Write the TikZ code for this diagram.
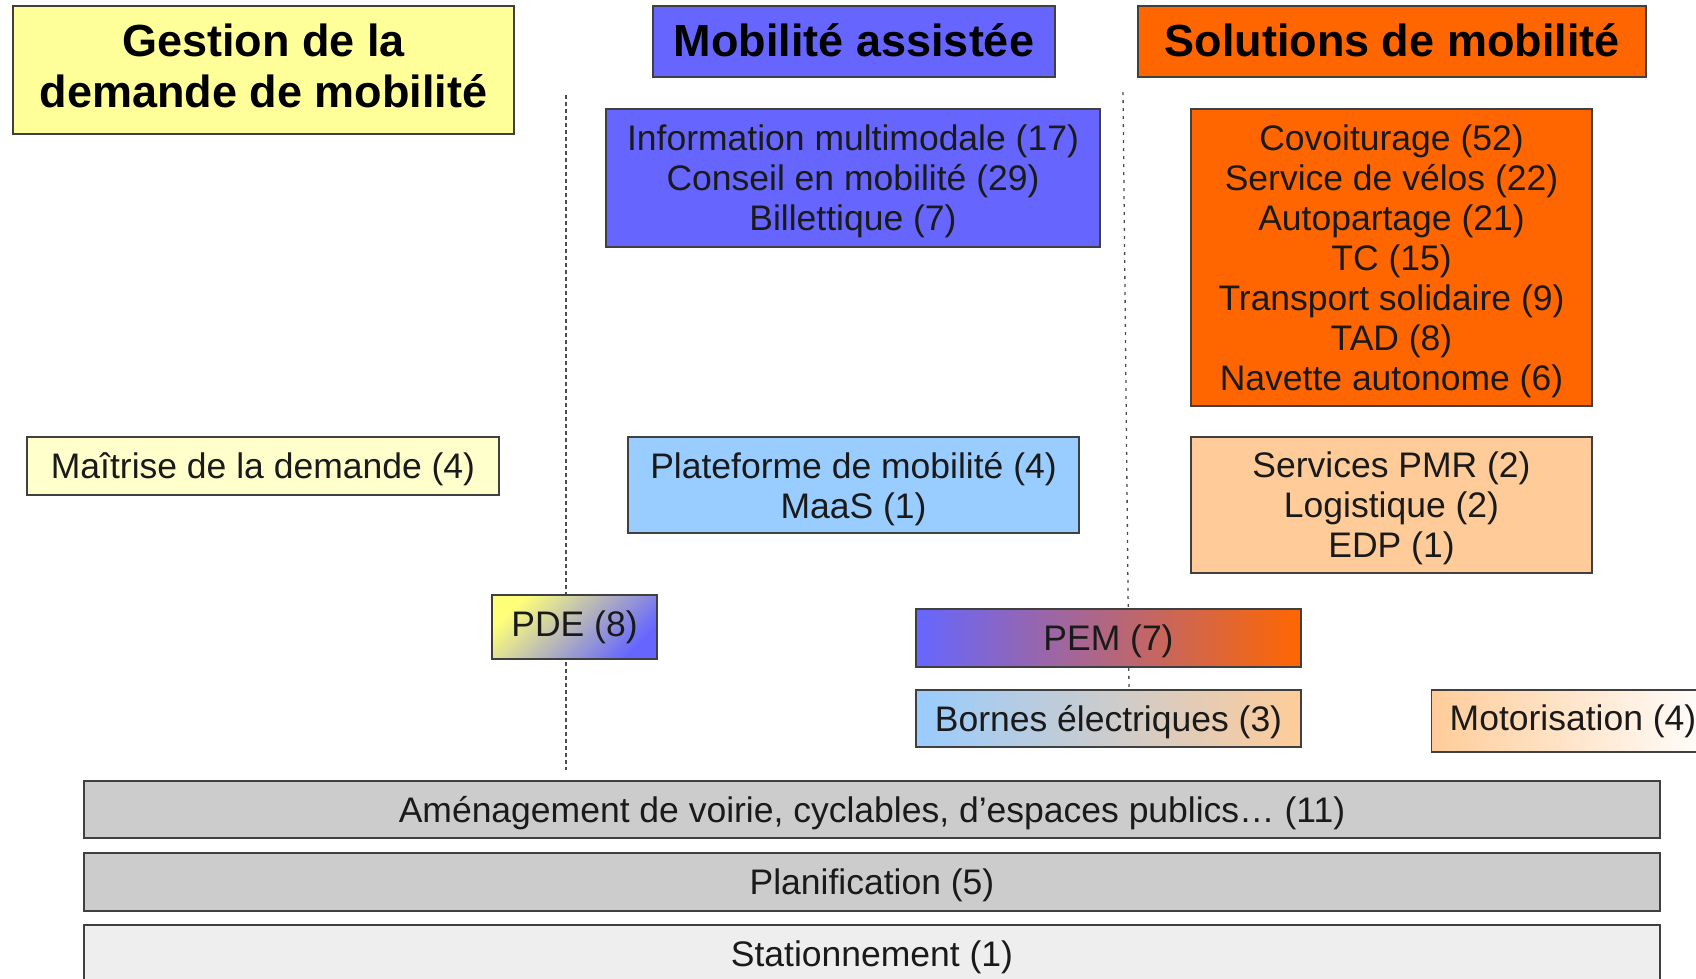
\documentclass[tikz,border=0pt]{standalone}
\usepackage{fontspec}
\setmainfont{Liberation Sans}
\definecolor{jaune}{HTML}{FFFF99}
\definecolor{jaunepale}{HTML}{FFFFCC}
\definecolor{bleu}{HTML}{6666FF}
\definecolor{orange}{HTML}{FF6600}
\definecolor{bleuclair}{HTML}{99CCFF}
\definecolor{orangeclair}{HTML}{FFCC99}
\definecolor{gris}{HTML}{CCCCCC}
\definecolor{grisclair}{HTML}{EEEEEE}
\definecolor{encre}{HTML}{1A1A1A}
\definecolor{cadre}{HTML}{404040}
\tikzset{
  boite/.style={draw=cadre, line width=1.4pt, inner sep=0pt, align=center,
    text=encre, font=\fontsize{35.5}{40}\selectfont},
  texte bas/.style={text depth=0pt},
  titre/.style={boite, font=\bfseries\fontsize{45}{51}\selectfont, text=black},
  separateur/.style={draw=black!70, line width=1.3pt, dash pattern=on 4pt off 3pt},
}
\begin{document}
\begin{tikzpicture}[x=1pt,y=-1pt]
\useasboundingbox (0,0) rectangle (1696,978);
\clip (0,0) rectangle (1696,978);

% column separators
\coordinate (sepA1) at (566,95);
\coordinate (sepA2) at (566,770);
\coordinate (sepB1) at (1123,92);
\coordinate (sepB2) at (1129,690);
\draw[separateur] (sepA1) -- (sepA2);
\draw[separateur, dash pattern=on 3pt off 5pt] (sepB1) -- (sepB2);

% column headings
\node[titre, fill=jaune, text depth=9pt, minimum width=501pt, minimum height=128pt] (gestion) at (263.5,70)
  {Gestion de la\\demande de mobilité};
\node[titre, fill=bleu, text depth=4pt, minimum width=402pt, minimum height=71pt] (assistee) at (854,41.5)
  {Mobilité assistée};
\node[titre, fill=orange, text depth=4pt, minimum width=508pt, minimum height=71pt] (solutions) at (1392,41.5)
  {Solutions de mobilité};

% main services
\node[boite, texte bas, fill=bleu, minimum width=494pt, minimum height=138pt] (info) at (853,178)
  {Information multimodale (17)\\Conseil en mobilité (29)\\Billettique (7)};
\node[boite, texte bas, fill=orange, minimum width=401pt, minimum height=297pt] (covoit) at (1391.5,257.5)
  {Covoiturage (52)\\Service de vélos (22)\\Autopartage (21)\\TC (15)\\Transport solidaire (9)\\TAD (8)\\Navette autonome (6)};

% secondary services
\node[boite, texte bas, fill=jaunepale, minimum width=472pt, minimum height=58pt] (maitrise) at (263,466)
  {Maîtrise de la demande (4)};
\node[boite, texte bas, fill=bleuclair, minimum width=451pt, minimum height=96pt] (plateforme) at (853.5,485)
  {Plateforme de mobilité (4)\\MaaS (1)};
\node[boite, texte bas, fill=orangeclair, minimum width=401pt, minimum height=136pt] (pmr) at (1391.5,505)
  {Services PMR (2)\\Logistique (2)\\EDP (1)};

% boxes spanning two columns
\node[boite, top color=jaune!80!yellow, bottom color=bleu, shading angle=45,
  minimum width=165pt, minimum height=64pt] (pde) at (574.5,627) {PDE (8)};
\node[boite, texte bas, left color=bleu, right color=orange, middle color=bleu!50!orange,
  minimum width=385pt, minimum height=58pt] (pem) at (1108.5,638) {PEM (7)};
\node[boite, texte bas, left color=bleuclair, right color=orangeclair, middle color=bleuclair!50!orangeclair,
  minimum width=385pt, minimum height=57pt] (bornes) at (1108.5,718.5) {Bornes électriques (3)};
\node[boite, left color=orangeclair, right color=white, anchor=west, inner xsep=18pt,
  minimum height=62pt] (motor) at (1431,721) {Motorisation (4)};

% cross-cutting actions
\node[boite, texte bas, fill=gris, minimum width=1576pt, minimum height=57pt] (amenag) at (872,809.5)
  {Aménagement de voirie, cyclables, d’espaces publics… (11)};
\node[boite, texte bas, fill=gris, minimum width=1576pt, minimum height=58pt] (planif) at (872,882)
  {Planification (5)};
\node[boite, texte bas, fill=grisclair, minimum width=1576pt, minimum height=58pt] (station) at (872,954)
  {Stationnement (1)};
\end{tikzpicture}
\end{document}
